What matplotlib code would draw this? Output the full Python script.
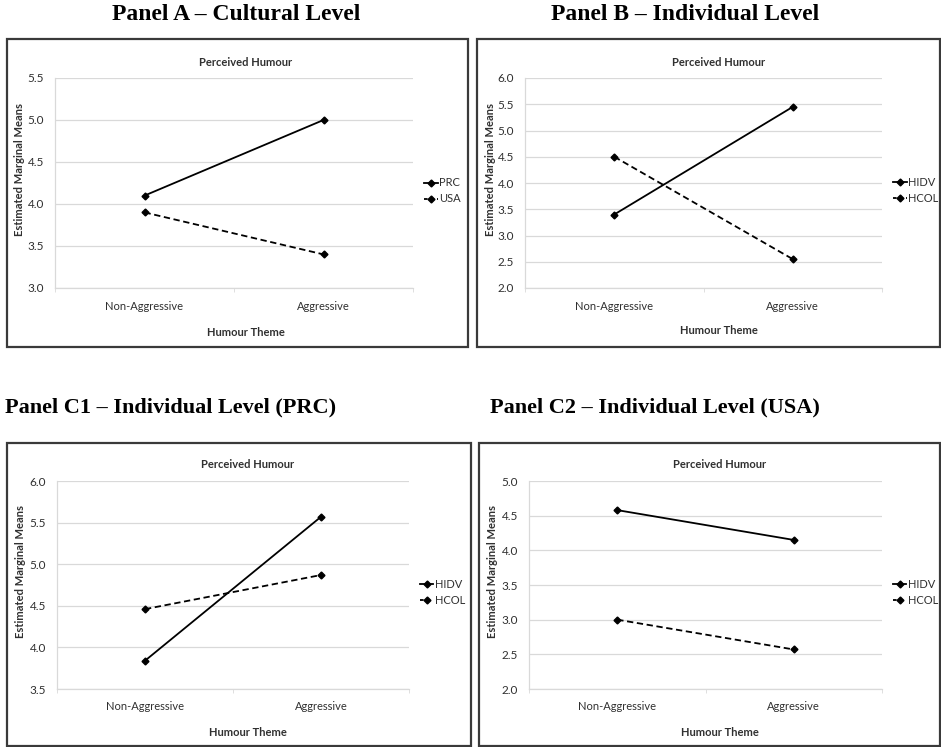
import matplotlib
matplotlib.use("Agg")
import matplotlib.pyplot as plt
from matplotlib.patches import Rectangle

W, H = 941, 747

categories = ["Non-Aggressive", "Aggressive"]

# Panel A - cultural level
a_names = ["PRC", "USA"]
a_solid = [4.10, 5.00]
a_dash = [3.90, 3.40]

# Panel B - individual level
b_names = ["HIDV", "HCOL"]
b_solid = [3.40, 5.45]
b_dash = [4.50, 2.55]

# Panel C1 - individual level (PRC)
c1_solid = [3.84, 5.57]
c1_dash = [4.46, 4.87]

# Panel C2 - individual level (USA)
c2_solid = [4.58, 4.15]
c2_dash = [3.00, 2.57]

ylims = {"A": (3.0, 5.5), "B": (2.0, 6.0), "C1": (3.5, 6.0), "C2": (2.0, 5.0)}

plt.rcParams['font.family'] = ['Lato', 'DejaVu Sans']
txt = '#303030'
grid = '#d9d9d9'

fig = plt.figure(figsize=(W / 100, H / 100), dpi=100)
fig.patch.set_facecolor('white')


def fx(px):
    return px / W


def fy(py):
    return 1 - py / H


def box(x0, y0, x1, y1):
    fig.patches.append(Rectangle((fx(x0), fy(y1)), fx(x1 - x0), (y1 - y0) / H,
                                 transform=fig.transFigure, fill=False,
                                 edgecolor='#3a3a3a', linewidth=1.6))


def panel(rect, key, solid, dash, names, title_x, title_y, xl_x, xl_y, yl_x, yl_y, leg_y):
    left, top, right, bottom = rect
    ax = fig.add_axes([fx(left), fy(bottom), fx(right - left), (bottom - top) / H])
    x = list(range(len(categories)))
    ax.plot(x, solid, color='black', lw=1.3, marker='D', ms=3.5, label=names[0])
    ax.plot(x, dash, color='black', lw=1.3, ls=(0, (3.5, 2)), marker='D', ms=3.5, label=names[1])
    lo, hi = ylims[key]
    ax.set_ylim(lo, hi)
    ax.set_xlim(-0.5, 1.5)
    ticks = [lo + 0.5 * i for i in range(int(round((hi - lo) / 0.5)) + 1)]
    ax.set_yticks(ticks)
    ax.set_yticklabels(["%.1f" % t for t in ticks], fontsize=8.5, color=txt)
    ax.tick_params(axis='y', length=0, pad=8)
    ax.set_xticks(x)
    ax.set_xticklabels(categories, fontsize=8, color=txt)
    ax.set_xticks([-0.5, 0.5, 1.5], minor=True)
    ax.tick_params(axis='x', which='major', length=0, pad=9)
    ax.tick_params(axis='x', which='minor', length=3, color=grid, direction='out')
    ax.grid(axis='y', color=grid, lw=0.9)
    ax.set_axisbelow(True)
    for s in ['top', 'right']:
        ax.spines[s].set_visible(False)
    for s in ['left', 'bottom']:
        ax.spines[s].set_color(grid)
        ax.spines[s].set_linewidth(0.9)
    fig.text(fx(title_x), fy(title_y), "Perceived Humour", ha='center', va='center',
             fontsize=8, fontweight='bold', color=txt)
    fig.text(fx(xl_x), fy(xl_y), "Humour Theme", ha='center', va='center',
             fontsize=8, fontweight='bold', color=txt)
    fig.text(fx(yl_x), fy(yl_y), "Estimated Marginal Means", ha='center', va='center',
             rotation=90, fontsize=8, fontweight='bold', color=txt)
    leg = ax.legend(loc='center left', frameon=False, fontsize=8, handlelength=1.25,
                    handletextpad=0.15, labelspacing=0.45, borderaxespad=0, borderpad=0,
                    bbox_to_anchor=(1.03, 1 - (leg_y - top) / (bottom - top)),
                    labelcolor=txt)
    # short handle: use finer dashes so the gap shows
    leg.get_lines()[1].set_linestyle((0, (2, 1.6)))
    return ax


# frames
box(7, 39, 468, 347)
box(477, 39, 940, 347)
box(7, 443, 471, 746)
box(479, 443, 940, 746)

panel((55, 78, 413, 288), "A", a_solid, a_dash, a_names, 246, 62, 246, 332, 20, 169, 191)
panel((525, 78, 882, 288), "B", b_solid, b_dash, b_names, 719, 62, 719, 331, 491, 169, 190)
panel((57, 481, 409, 689), "C1", c1_solid, c1_dash, b_names, 248, 465, 248, 732, 21, 571, 592)
panel((529, 481, 882, 689), "C2", c2_solid, c2_dash, b_names, 720, 465, 720, 732, 493, 571, 592)

hfont = ['Liberation Serif', 'DejaVu Serif']
fig.text(fx(236), fy(14), "Panel A \u2013 Cultural Level", ha='center', va='center',
         fontsize=17, fontweight='bold', family=hfont)
fig.text(fx(685), fy(14), "Panel B \u2013 Individual Level", ha='center', va='center',
         fontsize=17, fontweight='bold', family=hfont)
fig.text(fx(5), fy(407), "Panel C1 \u2013 Individual Level (PRC)", ha='left', va='center',
         fontsize=16, fontweight='bold', family=hfont)
fig.text(fx(490), fy(407), "Panel C2 \u2013 Individual Level (USA)", ha='left', va='center',
         fontsize=16, fontweight='bold', family=hfont)

fig.savefig("out.png", dpi=100, facecolor='white')
